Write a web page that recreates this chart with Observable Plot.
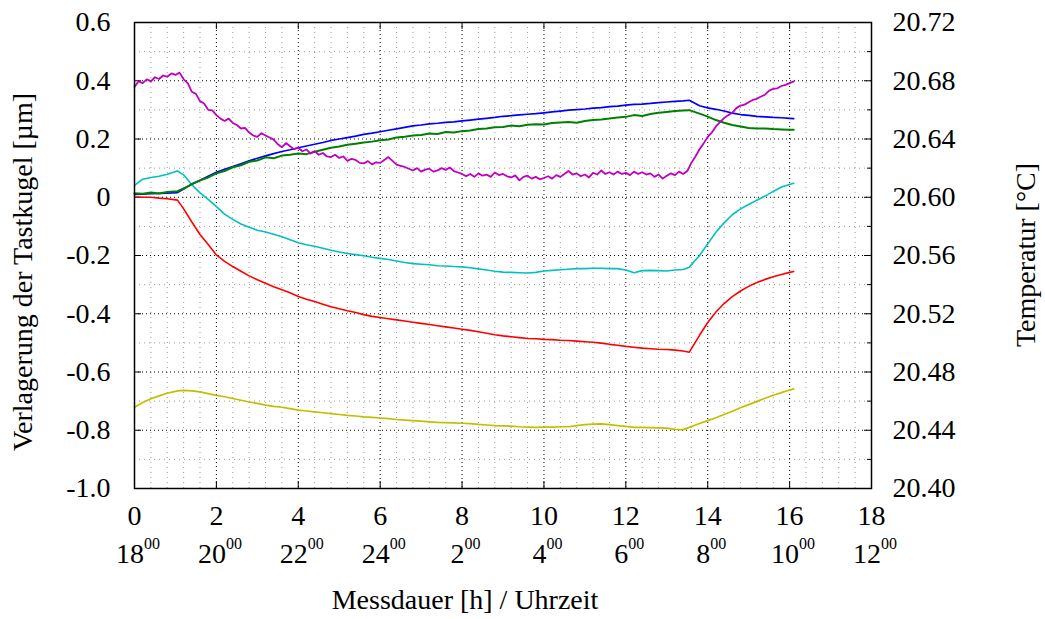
<!DOCTYPE html>
<html><head><meta charset="utf-8">
<script src="https://cdn.jsdelivr.net/npm/d3@7"></script>
<script src="https://cdn.jsdelivr.net/npm/@observablehq/plot@0.6"></script>
<style>body{margin:0;background:#fff} svg{display:block} svg text{font-family: "Liberation Serif", Tinos, "DejaVu Serif", serif !important;}</style>
</head><body><div id="chart"></div>
<script>
// Messdauer [h]
const hours = [0,0.2,0.4,0.6,0.8,1.05,1.2,1.4,1.6,1.8,
 2.0,2.2,2.4,2.6,2.8,3.0,3.2,3.4,3.6,3.8,
 4.0,4.2,4.4,4.6,4.8,5.0,5.2,5.4,5.6,5.8,
 6.0,6.2,6.4,6.6,6.8,7.0,7.2,7.4,7.6,7.8,
 8.0,8.2,8.4,8.6,8.8,9.0,9.2,9.4,9.6,9.8,
 10.0,10.2,10.4,10.6,10.8,11.0,11.2,11.4,11.6,11.8,
 12.0,12.2,12.4,12.6,12.8,13.0,13.2,13.4,13.55,13.8,
 14.0,14.2,14.4,14.6,14.8,15.0,15.2,15.4,15.6,15.8,
 16.0,16.1];
const blueSeries = [0.010,0.011,0.012,0.013,0.014,0.016,0.028,0.045,0.058,0.072,
 0.086,0.096,0.105,0.115,0.125,0.134,0.142,0.150,0.157,0.163,
 0.170,0.176,0.182,0.188,0.195,0.200,0.205,0.210,0.216,0.220,
 0.225,0.230,0.235,0.240,0.245,0.248,0.252,0.254,0.257,0.259,
 0.262,0.265,0.268,0.271,0.274,0.278,0.280,0.283,0.285,0.287,
 0.290,0.293,0.296,0.299,0.301,0.303,0.306,0.308,0.311,0.313,
 0.316,0.319,0.320,0.322,0.325,0.327,0.329,0.331,0.333,0.314,
 0.307,0.302,0.296,0.289,0.284,0.281,0.278,0.276,0.274,0.273,
 0.271,0.270];
const greenSeries = [0.014,0.012,0.016,0.013,0.018,0.021,0.030,0.045,0.058,0.068,
 0.082,0.090,0.103,0.110,0.122,0.126,0.137,0.134,0.143,0.146,
 0.150,0.148,0.156,0.163,0.170,0.174,0.180,0.184,0.188,0.191,
 0.196,0.198,0.205,0.208,0.212,0.214,0.219,0.217,0.224,0.222,
 0.227,0.229,0.234,0.236,0.240,0.241,0.246,0.244,0.249,0.251,
 0.250,0.255,0.257,0.258,0.256,0.262,0.265,0.267,0.270,0.274,
 0.276,0.282,0.279,0.286,0.290,0.293,0.296,0.298,0.299,0.287,
 0.277,0.265,0.256,0.248,0.243,0.238,0.236,0.236,0.234,0.233,
 0.232,0.232];
// magenta trace is read at a finer step (it is noisier)
const magentaHours = [0.0,0.1,0.2,0.3,0.4,0.5,0.6,0.7,0.8,0.9,
 1.0,1.1,1.2,1.3,1.4,1.5,1.6,1.7,1.8,1.9,
 2.0,2.1,2.2,2.3,2.4,2.5,2.6,2.7,2.8,2.9,
 3.0,3.1,3.2,3.3,3.4,3.5,3.6,3.7,3.8,3.9,
 4.0,4.1,4.2,4.3,4.4,4.5,4.6,4.7,4.8,4.9,
 5.0,5.1,5.2,5.3,5.4,5.5,5.6,5.7,5.8,5.9,
 6.0,6.1,6.2,6.3,6.4,6.5,6.6,6.7,6.8,6.9,
 7.0,7.1,7.2,7.3,7.4,7.5,7.6,7.7,7.8,7.9,
 8.0,8.1,8.2,8.3,8.4,8.5,8.6,8.7,8.8,8.9,
 9.0,9.1,9.2,9.3,9.4,9.5,9.6,9.7,9.8,9.9,
 10.0,10.1,10.2,10.3,10.4,10.5,10.6,10.7,10.8,10.9,
 11.0,11.1,11.2,11.3,11.4,11.5,11.6,11.7,11.8,11.9,
 12.0,12.1,12.2,12.3,12.4,12.5,12.6,12.7,12.8,12.9,
 13.0,13.1,13.2,13.3,13.4,13.5,13.6,13.7,13.8,13.9,
 14.0,14.1,14.2,14.3,14.4,14.5,14.6,14.7,14.8,14.9,
 15.0,15.1,15.2,15.3,15.4,15.5,15.6,15.7,15.8,15.9,
 16.0,16.1];
const magentaSeries = [0.379,0.398,0.392,0.405,0.398,0.412,0.406,0.418,0.414,0.425,
 0.420,0.428,0.405,0.392,0.362,0.355,0.330,0.322,0.300,0.298,
 0.282,0.270,0.262,0.270,0.255,0.248,0.236,0.238,0.222,0.212,
 0.207,0.220,0.212,0.205,0.198,0.182,0.172,0.186,0.175,0.165,
 0.170,0.158,0.164,0.150,0.158,0.146,0.152,0.140,0.138,0.146,
 0.135,0.140,0.125,0.132,0.128,0.118,0.116,0.124,0.113,0.120,
 0.118,0.128,0.138,0.125,0.112,0.108,0.104,0.098,0.092,0.100,
 0.088,0.095,0.098,0.088,0.092,0.100,0.094,0.102,0.090,0.085,
 0.080,0.072,0.080,0.070,0.082,0.074,0.078,0.070,0.085,0.076,
 0.080,0.072,0.068,0.075,0.058,0.070,0.074,0.064,0.070,0.062,
 0.066,0.072,0.064,0.076,0.070,0.080,0.090,0.078,0.082,0.072,
 0.078,0.068,0.084,0.078,0.092,0.080,0.086,0.078,0.088,0.080,
 0.084,0.076,0.088,0.080,0.086,0.078,0.082,0.070,0.078,0.064,
 0.074,0.082,0.076,0.088,0.080,0.090,0.118,0.140,0.165,0.185,
 0.207,0.222,0.243,0.258,0.272,0.282,0.290,0.306,0.315,0.318,
 0.326,0.334,0.338,0.346,0.352,0.366,0.372,0.374,0.382,0.386,
 0.392,0.398];
const cyanSeries = [0.041,0.062,0.068,0.072,0.079,0.090,0.077,0.043,0.015,-0.007,
 -0.032,-0.058,-0.076,-0.092,-0.103,-0.113,-0.119,-0.127,-0.136,-0.146,
 -0.156,-0.163,-0.168,-0.175,-0.182,-0.188,-0.193,-0.197,-0.201,-0.206,
 -0.210,-0.214,-0.219,-0.224,-0.228,-0.230,-0.232,-0.235,-0.236,-0.238,
 -0.239,-0.242,-0.246,-0.250,-0.254,-0.257,-0.258,-0.259,-0.260,-0.258,
 -0.253,-0.251,-0.249,-0.247,-0.245,-0.245,-0.244,-0.244,-0.245,-0.245,
 -0.250,-0.259,-0.252,-0.251,-0.252,-0.253,-0.250,-0.248,-0.240,-0.200,
 -0.160,-0.120,-0.088,-0.060,-0.040,-0.025,-0.010,0.004,0.020,0.035,
 0.044,0.048];
const redSeries = [0.001,0.000,0.000,-0.003,-0.005,-0.010,-0.040,-0.085,-0.128,-0.162,
 -0.198,-0.220,-0.238,-0.254,-0.270,-0.283,-0.295,-0.307,-0.318,-0.328,
 -0.341,-0.350,-0.358,-0.367,-0.376,-0.383,-0.390,-0.396,-0.403,-0.409,
 -0.413,-0.417,-0.421,-0.425,-0.429,-0.433,-0.437,-0.441,-0.445,-0.449,
 -0.453,-0.457,-0.462,-0.467,-0.472,-0.476,-0.479,-0.482,-0.485,-0.486,
 -0.488,-0.489,-0.491,-0.492,-0.494,-0.496,-0.498,-0.501,-0.505,-0.508,
 -0.512,-0.515,-0.518,-0.520,-0.522,-0.523,-0.525,-0.528,-0.532,-0.474,
 -0.430,-0.394,-0.365,-0.341,-0.322,-0.306,-0.293,-0.282,-0.273,-0.265,
 -0.258,-0.255];
const yellowSeries = [-0.721,-0.705,-0.692,-0.682,-0.673,-0.665,-0.663,-0.665,-0.668,-0.674,
 -0.680,-0.685,-0.691,-0.697,-0.703,-0.708,-0.714,-0.718,-0.721,-0.726,
 -0.731,-0.734,-0.737,-0.740,-0.743,-0.746,-0.749,-0.751,-0.754,-0.756,
 -0.758,-0.760,-0.763,-0.765,-0.767,-0.769,-0.771,-0.773,-0.774,-0.775,
 -0.776,-0.777,-0.780,-0.782,-0.784,-0.785,-0.786,-0.788,-0.789,-0.790,
 -0.789,-0.789,-0.788,-0.788,-0.784,-0.781,-0.779,-0.778,-0.781,-0.784,
 -0.787,-0.790,-0.790,-0.791,-0.792,-0.793,-0.797,-0.798,-0.790,-0.777,
 -0.767,-0.757,-0.746,-0.735,-0.723,-0.712,-0.701,-0.690,-0.680,-0.671,
 -0.662,-0.658];

const xTicks = [0,2,4,6,8,10,12,14,16,18];
const xTickLabels = ["0","2","4","6","8","10","12","14","16","18"];
const clockLabels = ["18","20","22","24","2","4","6","8","10","12"];
const yTicks = [0.6,0.4,0.2,0,-0.2,-0.4,-0.6,-0.8,-1.0];
const yTickLabels = ["0.6","0.4","0.2","0","-0.2","-0.4","-0.6","-0.8","-1.0"];
const tempTickLabels = ["20.72","20.68","20.64","20.60","20.56","20.52","20.48","20.44","20.40"];

const seriesList = [
  {name: "yellow", color: "#c0c000", t: hours, v: yellowSeries, w: 1.7},
  {name: "red", color: "#ff0000", t: hours, v: redSeries, w: 1.6},
  {name: "cyan", color: "#00c0c0", t: hours, v: cyanSeries, w: 1.6},
  {name: "blue", color: "#0000ff", t: hours, v: blueSeries, w: 1.7},
  {name: "green", color: "#008000", t: hours, v: greenSeries, w: 2.0},
  {name: "magenta", color: "#c000c0", t: magentaHours, v: magentaSeries, w: 1.8}
];

const W = 1045, H = 619;
const mL = 134, mR = 174, mT = 22, mB = 131;
const pw = W - mL - mR, ph = H - mT - mB;
const FONT = "Liberation Serif, Tinos, DejaVu Serif, serif";
const FS = 28;

const xMinor = d3.range(0, 18.001, 0.4).filter(v => Math.abs(v/2 - Math.round(v/2)) > 1e-6);
const yMinor = d3.range(-1.0, 0.6001, 0.1).map(v => +v.toFixed(2)).filter(v => Math.abs(v/0.2 - Math.round(v/0.2)) > 1e-6);
const xInner = xTicks.filter(v => v > 0 && v < 18);
const yInner = yTicks.filter(v => v > -1 && v < 0.6);

const lineMarks = seriesList.map(s =>
  Plot.line(s.t.map((t, i) => ({t, v: s.v[i]})), {
    x: "t", y: "v", stroke: s.color, strokeWidth: s.w
  })
);

const chart = Plot.plot({
  width: W, height: H,
  marginLeft: mL, marginRight: mR, marginTop: mT, marginBottom: mB,
  style: {fontFamily: FONT, fontSize: FS + "px", background: "#fff", color: "#000"},
  x: {domain: [0, 18]},
  y: {domain: [-1.0, 0.6]},
  marks: [
    Plot.ruleX(xMinor, {stroke: "#9a9a9a", strokeDasharray: "1,4", strokeWidth: 1}),
    Plot.ruleY(yMinor, {stroke: "#9a9a9a", strokeDasharray: "1,4", strokeWidth: 1}),
    Plot.ruleX(xInner, {stroke: "#000", strokeDasharray: "1,3", strokeWidth: 1}),
    Plot.ruleY(yInner, {stroke: "#000", strokeDasharray: "1,3", strokeWidth: 1}),
    Plot.ruleY(yTicks, {stroke: "#000", insetRight: pw - 7}),
    Plot.ruleY(yTicks, {stroke: "#000", insetLeft: pw - 7}),
    Plot.ruleY(yMinor, {stroke: "#000", insetLeft: pw - 4}),
    Plot.ruleX(xTicks, {stroke: "#000", insetTop: ph - 7}),
    Plot.ruleX(xTicks, {stroke: "#000", insetBottom: ph - 7}),
    ...lineMarks,
    Plot.frame({stroke: "#000", strokeWidth: 1.5}),
    Plot.axisX(xTicks, {anchor: "bottom", tickSize: 0, tickPadding: 17, fontSize: FS,
      tickFormat: d => xTickLabels[xTicks.indexOf(d)], label: null}),
    Plot.axisY(yTicks, {anchor: "left", tickSize: 0, tickPadding: 24, fontSize: FS,
      tickFormat: d => yTickLabels[yTicks.indexOf(d)], label: null}),
    Plot.axisY(yTicks, {anchor: "right", tickSize: 0, tickPadding: 21, fontSize: FS,
      tickFormat: d => tempTickLabels[yTicks.indexOf(d)], label: null})
  ]
});

document.getElementById("chart").appendChild(chart);

const svg = d3.select(chart);
const xs = chart.scale("x");
const g = svg.append("g").style("font-family", FONT).attr("fill", "#000");
xTicks.forEach((t, i) => {
  const txt = g.append("text")
    .attr("x", xs.apply(t) + 4).attr("y", 563)
    .attr("text-anchor", "middle").style("font-size", FS + "px");
  txt.append("tspan").text(clockLabels[i]);
  txt.append("tspan").style("font-size", "16px").attr("dy", -14).text("00");
});
g.append("text").attr("x", 465).attr("y", 609).attr("text-anchor", "middle")
  .style("font-size", FS + "px").text("Messdauer [h] / Uhrzeit");
g.append("text").attr("transform", "translate(32,272) rotate(-90)")
  .attr("text-anchor", "middle").style("font-size", FS + "px").text("Verlagerung der Tastkugel [µm]");
g.append("text").attr("transform", "translate(1035,255) rotate(-90)")
  .attr("text-anchor", "middle").style("font-size", FS + "px").text("Temperatur [°C]");
</script></body></html>
